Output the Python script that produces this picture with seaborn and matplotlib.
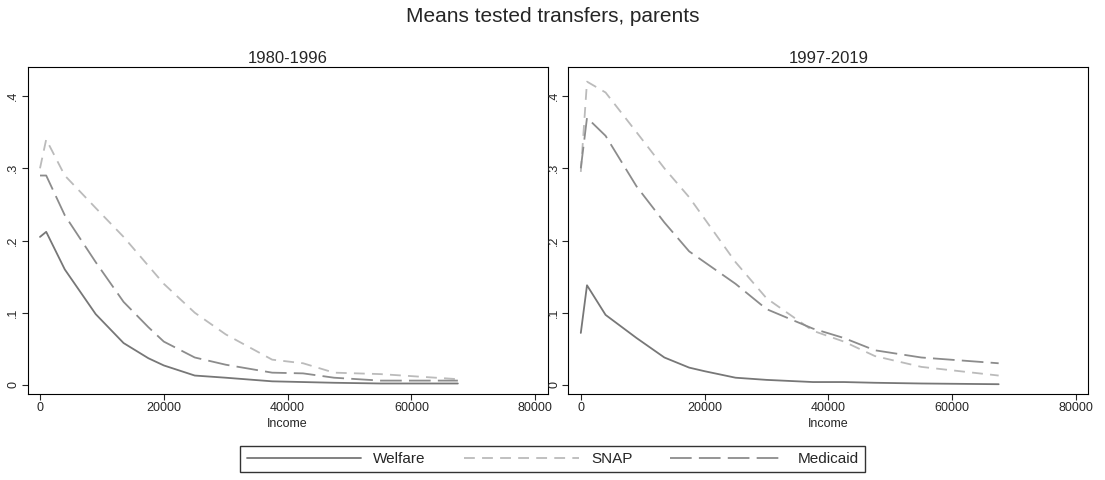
import matplotlib
matplotlib.use("Agg")
import matplotlib.pyplot as plt
from matplotlib.lines import Line2D
import seaborn as sns
import pandas as pd

income = [0, 1000, 4000, 9000, 13500, 17500, 20000, 25000, 30000, 37500, 42500, 47500, 55000, 67500]
welfare_a = [0.205, 0.212, 0.16, 0.098, 0.058, 0.037, 0.027, 0.013, 0.010, 0.005, 0.004, 0.003, 0.002, 0.002]
snap_a = [0.30, 0.34, 0.29, 0.245, 0.205, 0.165, 0.14, 0.10, 0.07, 0.035, 0.03, 0.017, 0.015, 0.008]
medicaid_a = [0.29, 0.29, 0.235, 0.17, 0.115, 0.08, 0.06, 0.038, 0.028, 0.017, 0.016, 0.010, 0.006, 0.006]
welfare_b = [0.072, 0.138, 0.097, 0.065, 0.038, 0.024, 0.019, 0.010, 0.007, 0.004, 0.004, 0.003, 0.002, 0.001]
snap_b = [0.295, 0.42, 0.405, 0.35, 0.30, 0.26, 0.23, 0.17, 0.12, 0.075, 0.06, 0.04, 0.025, 0.013]
medicaid_b = [0.30, 0.37, 0.345, 0.275, 0.225, 0.185, 0.17, 0.14, 0.105, 0.078, 0.065, 0.048, 0.038, 0.030]
periods = ["1980-1996", "1997-2019"]
names = ["Welfare", "SNAP", "Medicaid"]

sns.set_style("white")
plt.rcParams['font.family'] = ['Liberation Sans', 'DejaVu Sans']
fig, axes = plt.subplots(1, 2, figsize=(11.05, 4.8), dpi=100)
fig.subplots_adjust(left=0.025, right=0.985, top=0.86, bottom=0.18, wspace=0.04)
styles = {"Welfare": dict(color="#777777", ls="-"),
          "SNAP": dict(color="#bbbbbb", ls=(0, (6, 4))),
          "Medicaid": dict(color="#8c8c8c", ls=(0, (12, 4)))}
data = [(welfare_a, snap_a, medicaid_a), (welfare_b, snap_b, medicaid_b)]
for ax, title, vals3 in zip(axes, periods, data):
    for name, vals in zip(names, vals3):
        df = pd.DataFrame({"x": income, "y": vals})
        st = styles[name]
        sns.lineplot(data=df, x="x", y="y", ax=ax, color=st["color"], linestyle=st["ls"],
                     lw=1.3, legend=False)
    ax.set_title(title, fontsize=12, pad=3)
    ax.set_xlim(-2000, 82000)
    ax.set_ylim(-0.012, 0.44)
    ax.set_xticks([0, 20000, 40000, 60000, 80000])
    ax.set_yticks([0, 0.1, 0.2, 0.3, 0.4])
    ax.set_yticklabels(["0", ".1", ".2", ".3", ".4"], rotation=90, va="center")
    ax.set_xlabel("Income", fontsize=9, labelpad=0)
    ax.xaxis.set_label_coords(0.5, -0.075)
    ax.set_ylabel("")
    ax.tick_params(axis="both", labelsize=9, length=4, direction="out", left=True, bottom=True, pad=2)
    for sp in ax.spines.values():
        sp.set_color("black"); sp.set_linewidth(0.8)
handles = [Line2D([], [], color=styles[n]["color"], linestyle=styles[n]["ls"], lw=1.3) for n in names]
fig.legend(handles, names, loc="lower center", ncol=3, frameon=True, fancybox=False, edgecolor="black",
           fontsize=11, handlelength=7.5, columnspacing=2.5, bbox_to_anchor=(0.5, 0.0))
fig.suptitle("Means tested transfers, parents", fontsize=15, y=0.985)
fig.savefig("out.png", dpi=100, facecolor="white")
